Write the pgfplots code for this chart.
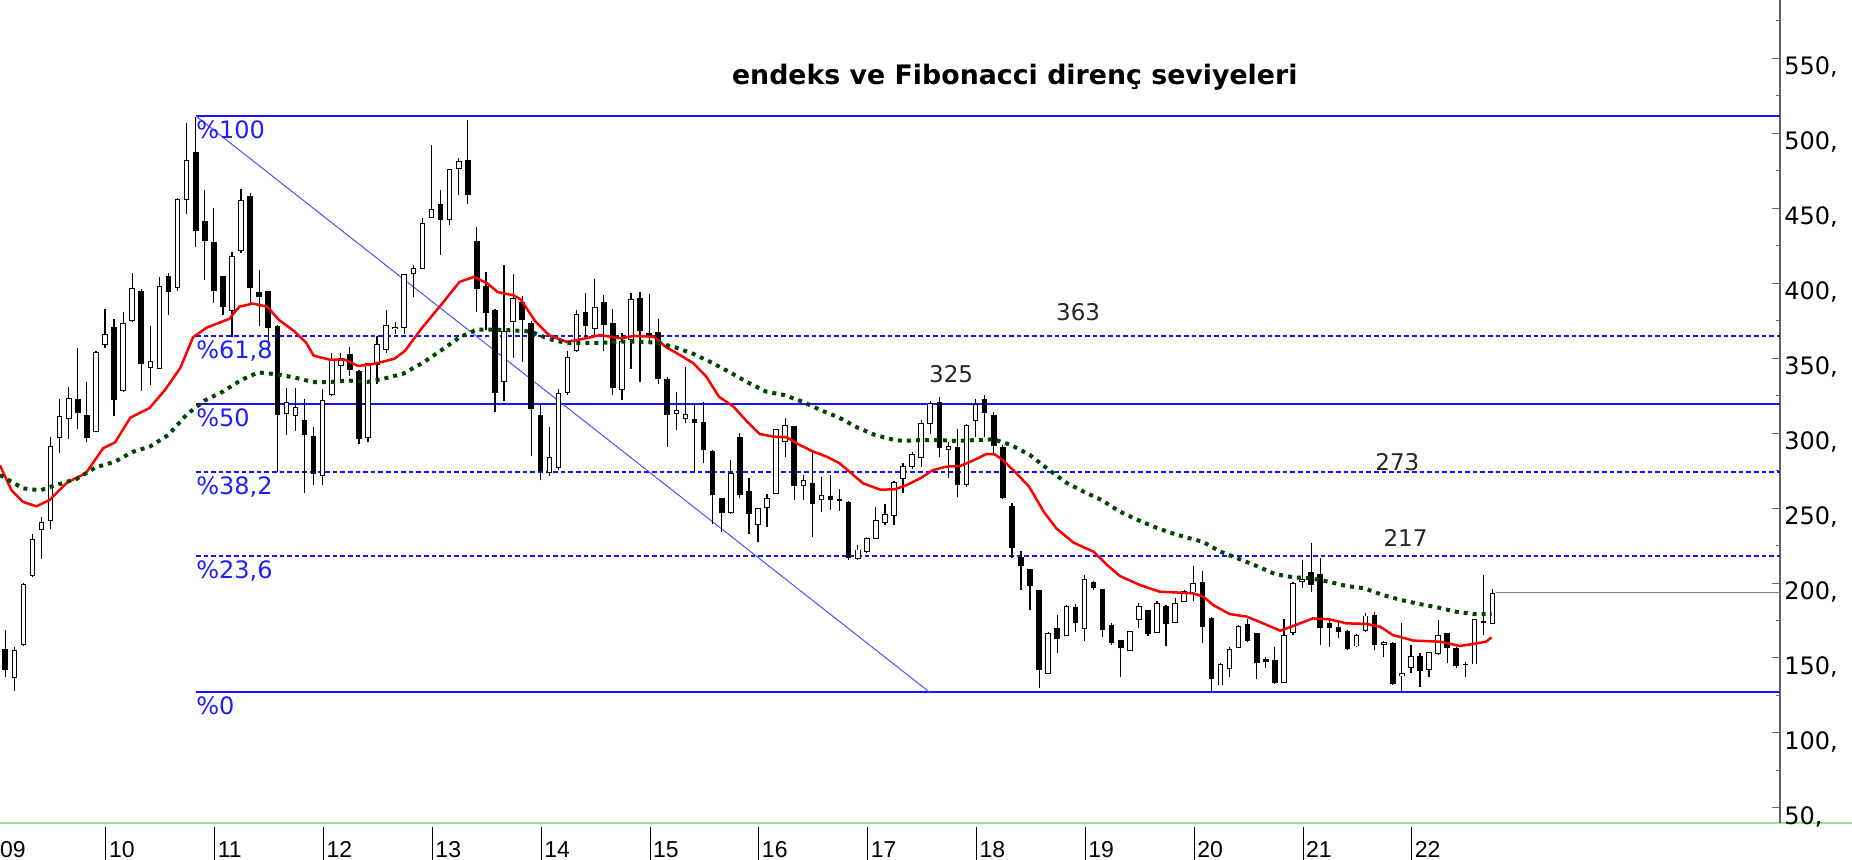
\documentclass[border=0pt]{standalone}
\usepackage{fontspec}
\setmainfont{DejaVu Sans}
\newfontfamily\xfont{Liberation Sans}
\usepackage{pgfplots}
\usepackage{pgfplotstable}
\pgfplotsset{compat=1.18}

\definecolor{fibblue}{RGB}{20,20,255}
\definecolor{fibtext}{RGB}{30,30,255}
\definecolor{diagblue}{RGB}{80,80,255}
\definecolor{magreen}{RGB}{0,70,0}
\definecolor{axgreen}{RGB}{150,225,150}
\definecolor{axgray}{RGB}{100,100,100}

% monthly candles, m = months since Jan 2009
\pgfplotstableread{
m o h l c
2 137 157 128 155
3 159 200 158 199
4 205 233 204 229
5 235.5 244 216 240.6
6 242 297.5 236 291
7 297 323 287 311
8 310 331 296 323
11 301 355 301 354
12 358.7 383 356.7 365.6
14 328.6 380.4 327.6 373
15 375 406.7 374 396.5
17 344 371.5 332 347.5
18 343 404 343 398
20 397 457 394.5 455.7
21 456 506.7 446 481.7
26 381.7 420.5 363.8 418
27 421.7 462.8 420 455
32 313 330 298.8 320.5
33 312 330 301.3 317
36 272 329.4 265.6 322
37 325.6 353.6 325 348.5
38 344.7 353.6 335.8 349.8
41 297 347 293.7 346.5
42 346 365 333 358.7
43 355.7 382 353.6 371.5
44 369.5 374 366 370.5
45 370.2 406 366 406
46 406.6 411.8 390.6 409.8
47 409.8 443.4 409.8 439.9
48 444 492 443.4 448.7
50 442.4 475.7 439 475.7
51 476.5 483.5 458.7 481
56 334.6 412 321.3 367.7
57 374.3 406.2 350 389.6
61 273.5 304 271.4 283.7
62 277.1 329.6 275.2 326.2
63 327.2 354.6 325.6 350.6
64 355 382.3 353.9 378.7
66 369.5 403 364 383.8
69 328.9 366.4 322 361.2
70 362.5 393.4 342.7 389.1
75 313.1 327.5 302 315.1
76 309.6 344.2 306.4 312.4
81 246.9 282 246 273.1
84 238.7 249.8 227.5 249.8
85 250.4 259.3 237.1 256.4
86 259.8 302.4 259.5 302.4
87 294.2 309.8 284.2 305.3
89 265.3 272 255.3 268.2
91 255.8 270.9 247.6 258.2
95 216.4 225.3 215.3 222
96 220.9 230.9 219.8 229.8
97 229.8 250.9 229.8 241.6
98 240.3 253 238.7 245.8
99 244.7 268.2 238.7 267.3
100 269.8 279.8 260.2 277.6
101 277.6 287.6 275.8 285.8
102 283.8 308.7 277.6 306.4
103 306.4 321.6 299.3 319.8
105 289.1 294.2 269.8 291.3
107 266 306 264.2 304.7
108 308.2 322.4 297.6 319.3
116 139.8 167.6 139.5 166.4
118 164.7 185.3 164.5 184.2
120 169.8 205.3 161.6 202.4
125 155.3 167.8 155 167.6
126 175.8 186.9 169.8 184.2
128 166.9 188.2 166.6 186.4
130 173.8 189.8 173.5 186.4
131 187.6 195.2 187.3 194.6
132 194 211.5 187.8 199.8
135 132 146.9 132 145.8
136 143.1 157.6 137.6 155.8
137 157.1 172 156.9 170.9
142 133.6 175.8 133.1 164.7
143 166.9 200.9 165.3 199.8
144 200.9 215.3 196.4 202.4
150 158 166 157.6 165.3
151 168.2 179.8 167.6 178
153 158.7 161.6 150.9 160.4
155 138 173.1 127.3 139.8
156 143.8 158.7 139.8 151.3
158 142.4 154.2 137.6 153.6
159 153.1 175.3 152 164.7
163 146 176.2 145.7 175.8
165 173.1 195.8 172.7 193.1
}\upc

\pgfplotstableread{
m o h l c
1 156 169 137 142
9 322.5 357 302.6 313.6
10 312 333.7 293.7 297
13 371 376 311.3 321.7
16 395 395.7 328 346
19 405 407 379 394
22 487.6 511 424 435
23 441.6 462 402 428
24 427.6 449.8 387 394.4
25 404.7 405 378.6 384
28 458 460 386.8 396.5
29 394 408.5 371.5 390.6
30 394.4 395 354.9 369.7
31 371.5 372 274 312.3
34 309 323 259.8 298.8
35 298 303.9 265.6 273
39 353 357.5 338 342
40 341.4 342 293 296
49 453 462 418.7 442
52 481.7 509 453 458.7
53 428.1 437.3 381 396.1
54 398.2 407.2 369 379.8
55 382.3 382.6 313.8 326.9
58 387.4 391.5 347.4 375.3
59 373.3 374.6 284.8 316.2
60 311.8 318.7 268.4 274.4
65 381 393.3 364 371.2
67 387.6 392 355 372
68 373.1 382.4 325.3 329.8
71 389.8 394.2 334.2 367.8
72 366.5 392.5 362 365
73 367.5 375.8 332.7 336
74 335.8 337.6 290.9 312
77 309.1 319.8 274.2 306.9
78 307.5 320.9 279.8 288.7
79 288.2 288.5 239.3 258.7
80 256.4 256.8 234.2 246.4
82 297.1 299.8 256.4 258.7
83 261.3 269.8 232.7 246
88 304.7 305 255.3 264.7
90 266.4 288.7 230.9 252.7
92 258.2 272 248.7 255.3
93 255.8 262.4 248.2 254.9
94 254.2 254.5 215.3 216.4
104 320.9 324.2 283.8 289.8
106 290.4 302.4 257.1 265.3
109 322.4 325.3 297.6 313.6
110 312 314.2 286 291.3
111 290.9 292 255.8 256.4
112 251.6 253.1 216.4 223.1
113 217.1 221.6 195.3 211.3
114 209.1 209.5 182 198
115 195.3 195.6 129.8 142
117 169.8 178.7 153.1 162.4
119 184.2 186 167.6 173.1
121 200.9 201.6 195.3 196.4
122 195.8 196 164.2 168.7
123 172 173.1 158.7 160.2
124 162 162.3 137.6 156.4
127 182 182.3 164.7 166
129 184.9 185.2 158 172.7
133 200.9 208.2 159.8 170.4
134 176.4 177.6 126.4 135.8
138 172.4 175.8 160.9 161.6
139 166.4 166.7 135.8 146.9
140 149.1 150.9 143.1 147.6
141 148.7 157.6 132.7 133.1
145 207.6 226.9 194.2 198.7
146 205.8 216.4 158.7 169.8
147 173.1 176.4 157.6 169.8
148 170.9 175.3 163.1 167.6
149 168.2 168.5 155.3 156
152 178.7 180.9 155.3 158.7
154 160.2 160.5 132 132.7
157 151.6 153.1 130.9 141.6
160 166.4 166.9 146.4 156.4
161 156.4 157.6 143.1 144.7
162 146 147.6 137.6 145
164 174.7 205.1 165.3 173.1
}\downc

\newcommand{\xl}[1]{\rule[-1.5pt]{0.5pt}{16.5pt}\hspace{1.3pt}#1}

\pgfplotsset{candle/.style={draw=none, mark=none, forget plot,
  error bars/.cd, y dir=plus, y explicit, error mark=none}}

\begin{document}
\begin{tikzpicture}
\begin{axis}[
  at={(-1.9pt,18.5pt)}, anchor=south west,
  scale only axis, width=891.9pt, height=411.5pt,
  xmin=0, xmax=196.7, ymin=40, ymax=588.7,
  axis x line=bottom, axis y line=right,
  x axis line style={-, draw=axgreen, line width=1pt, shorten >=-40pt},
  y axis line style={-, draw=axgray, line width=0.7pt},
  xtick={0,12,...,156},
  xticklabels={\xl{09},\xl{10},\xl{11},\xl{12},\xl{13},\xl{14},\xl{15},\xl{16},\xl{17},\xl{18},\xl{19},\xl{20},\xl{21},\xl{22}},
  major x tick style={draw=none},
  xticklabel style={anchor=north west, inner sep=0pt, yshift=-2pt, font=\xfont\fontsize{11.5}{13}\selectfont},
  ytick={50,100,...,600},
  yticklabels={{50,},{100,},{150,},{200,},{250,},{300,},{350,},{400,},{450,},{500,},{550,},{600,}},
  minor y tick num=1,
  tick align=inside,
  major tick length=4pt, minor tick length=2pt,
  tick style={axgray, line width=0.5pt},
  yticklabel style={anchor=base west, inner sep=0pt, xshift=2pt, yshift=-8.3pt, font=\fontsize{12}{14}\selectfont},
  title={endeks ve Fibonacci direnç seviyeleri},
  title style={at={(0.571,0.8825)}, anchor=base, inner sep=0pt, font=\fontsize{13.4}{16}\selectfont\bfseries},
]
% Fibonacci levels
\addplot[fibblue, line width=0.75pt, mark=none] coordinates {(22.03,511.3) (196.7,511.3)};
\addplot[fibblue, line width=0.75pt, mark=none, dash pattern=on 2.3pt off 1.5pt] coordinates {(22.03,364.6) (196.7,364.6)};
\addplot[fibblue, line width=0.75pt, mark=none] coordinates {(22.03,319.3) (196.7,319.3)};
\addplot[fibblue, line width=0.75pt, mark=none, dash pattern=on 2.3pt off 1.5pt] coordinates {(22.03,274.0) (196.7,274.0)};
\addplot[fibblue, line width=0.75pt, mark=none, dash pattern=on 2.3pt off 1.5pt] coordinates {(22.03,217.9) (196.7,217.9)};
\addplot[fibblue, line width=0.75pt, mark=none] coordinates {(22.03,127.3) (196.7,127.3)};
\addplot[diagblue, line width=0.5pt, mark=none] coordinates {(22.03,511.3) (102.9,127.3)};
% last price line
\addplot[gray, line width=0.5pt, mark=none] coordinates {(165.4,193.6) (196.7,193.6)};

% wicks
\addplot[candle, error bar style={draw=black, solid, line width=0.6pt}]
  table[x=m, y=l, y error plus expr=\thisrow{h}-\thisrow{l}] {\upc};
\addplot[candle, error bar style={draw=black, solid, line width=0.6pt}]
  table[x=m, y=l, y error plus expr=\thisrow{h}-\thisrow{l}] {\downc};
% black bodies
\addplot[candle, error bar style={draw=black, solid, line width=2.8pt}]
  table[x=m, y=c, y error plus expr=\thisrow{o}-\thisrow{c}] {\downc};
% white bodies: outline then fill
\addplot[candle, error bar style={draw=black, solid, line width=2.8pt}]
  table[x=m, y expr=\thisrow{o}-0.33, y error plus expr=\thisrow{c}-\thisrow{o}+0.66] {\upc};
\addplot[candle, error bar style={draw=white, solid, line width=1.8pt}]
  table[x=m, y expr=\thisrow{o}+0.33, y error plus expr={max(\thisrow{c}-\thisrow{o}-0.66,0)}] {\upc};

% short moving average (red)
\addplot[red, line width=1.25pt, mark=none] coordinates {
(0.42,278.4) (1.69,261.8) (2.95,254.1) (4.43,251.1) (5.9,255.4) (7.8,266.9) (9.9,273.3) (11.8,289.9) (13.1,293.7) (14.8,310.3) (16.9,316.6) (18.6,328.6) (20.3,343.4) (21.7,363.8) (23.2,370.2) (25.7,376.1) (26.8,384.2) (28.3,386.3) (29.9,384.2) (31.2,375.3) (32.9,367.7) (34.2,360) (35,351.6) (36.7,349) (38.4,349) (39.9,344.7) (41.6,346) (43.9,349.5) (45.1,354.9) (46.8,368.9) (49.4,388) (51.1,400.8) (52.7,404.1) (54.2,399.6) (55.3,393.9) (57,391.9) (57.8,389.3) (59.5,374) (61,365.1) (62.9,360.8) (64.6,362.6) (66.6,365.3) (68.8,363.1) (70.3,364.7) (72.5,364.2) (73.9,357.1) (75.4,352) (76.9,346.4) (78.3,337.6) (79.7,324.2) (81.3,317.6) (82.8,307.6) (84.2,299.3) (85.7,297.6) (87.2,297.1) (88.6,292) (90.1,287.6) (91.6,284.2) (93,279.8) (94.1,274.2) (95.6,266.4) (97.5,262.2) (99.1,262.5) (100.4,265.3) (101.9,269.8) (103.3,275.3) (104.8,277.6) (106.3,278) (107.7,281.6) (109.2,286) (110.1,285.8) (111,282) (112.5,273.1) (113.9,264.2) (115.5,247.6) (116.9,236.4) (118.8,226.9) (121,220.9) (122.5,212) (123.9,204.7) (126.1,198.7) (128.3,194.2) (130.5,193.6) (132,193.1) (133.1,190.9) (134.2,185.3) (136,179.3) (137.9,177.6) (139.7,173.1) (141.6,168.2) (143,171.3) (145.2,176.4) (147,175.8) (148.9,173.1) (151.1,172.7) (152.6,170.9) (154,165.3) (156.3,161.6) (159.2,160.9) (161.4,158) (162.8,159.3) (164.3,160.9) (164.9,163.8)
};
% long moving average (dark green dotted)
\addplot[magreen, line width=2pt, mark=none, dash pattern=on 2pt off 2.5pt] coordinates {
(0.42,272) (2.95,263.1) (4.85,261.8) (6.75,265.6) (8.86,269.4) (10.97,277.1) (13.1,280.9) (15,287.3) (17,291.1) (19,298.8) (21,312.3) (23,321.7) (25,327.6) (27,335.3) (28.9,340.4) (31,339.1) (32.9,337) (34.9,334) (36.8,334) (38.8,335) (40.9,334) (42.8,336.3) (44.9,339.6) (47,346.7) (48.9,354.4) (51.1,363.8) (53,369) (54.9,369) (57,368.4) (58.9,367.7) (61,362.6) (62.9,360) (64.9,360) (67,360.2) (68.9,360.9) (71,360.9) (72.9,360.2) (74.9,357.1) (76.9,352.7) (78.9,346.9) (81,340.2) (82.9,333.6) (84.9,327.6) (86.9,325.3) (88.9,320.9) (90.9,315.3) (92.9,310.4) (94.9,303.8) (96.9,298.7) (98.9,295.6) (100,294.7) (102,295.3) (104,295.3) (105.9,294.7) (108,295.3) (110,295.8) (111.9,292) (114,285.3) (116,275.8) (118,266.9) (119.9,260.9) (121.9,255.3) (123.9,247.6) (125.9,242) (127.9,236.9) (129.9,232.7) (131.8,229.5) (133,227.6) (135,220.9) (136.9,216.4) (139,211.3) (141,206) (143,203.8) (145,203.1) (146.9,200.9) (148.9,198) (150.9,196.4) (152.9,192) (154.9,188.7) (156.9,186) (158.9,183.8) (160.9,180.9) (162.9,179.3) (164.9,179.3)
};

% Fibonacci labels
\begin{scope}[every node/.style={anchor=base west, inner sep=0pt, text=fibtext, font=\fontsize{12}{14}\selectfont}]
\node[yshift=-11.3pt] at (axis cs:22.03,511.3) {\%100};
\node[yshift=-11.3pt] at (axis cs:22.03,364.6) {\%61,8};
\node[yshift=-11.3pt] at (axis cs:22.03,319.3) {\%50};
\node[yshift=-11.3pt] at (axis cs:22.03,274.0) {\%38,2};
\node[yshift=-11.3pt] at (axis cs:22.03,217.9) {\%23,6};
\node[yshift=-11.3pt] at (axis cs:22.03,127.3) {\%0};
\end{scope}
\begin{scope}[every node/.style={anchor=center, inner sep=0pt, text=black!85, font=\fontsize{11.5}{14}\selectfont}]
\node at (axis cs:119.3,380.7) {363};
\node at (axis cs:105.3,339.3) {325};
\node at (axis cs:154.5,280.7) {273};
\node at (axis cs:155.4,229.7) {217};
\end{scope}
\end{axis}
\pgfresetboundingbox
\path[use as bounding box] (0,0) rectangle (926pt,430pt);
\end{tikzpicture}
\end{document}
